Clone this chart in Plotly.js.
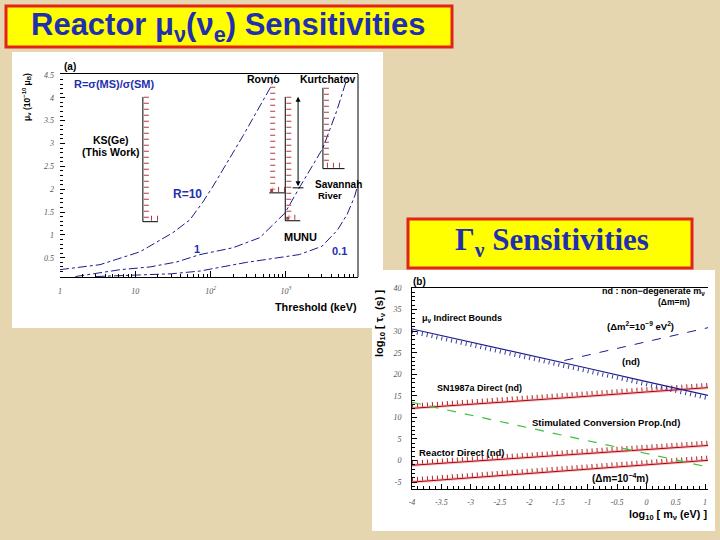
<!DOCTYPE html>
<html><head><meta charset="utf-8">
<script src="https://cdn.plot.ly/plotly-3.0.1.min.js"></script>
<style>html,body{margin:0;padding:0;background:#e6d6b0;}#chart{width:720px;height:540px;}</style>
</head><body><div id="chart"></div>
<script>
// ---------- Panel (a): reactor magnetic moment sensitivities ----------
const thrR10 = [1, 3.4, 11.5, 31.6, 53, 79, 108, 270, 620, 740];
const muR10  = [0.24, 0.35, 0.63, 1.05, 1.33, 1.72, 2.07, 3.17, 4.22, 4.5];
const thrR1  = [1.6, 6.3, 15.7, 35.6, 72, 198, 450, 714, 970, 1530, 3100, 4700, 6400, 6700];
const muR1   = [0.09, 0.24, 0.30, 0.41, 0.57, 0.72, 0.94, 1.27, 1.48, 2.05, 2.9, 3.7, 4.43, 4.5];
const thrR01 = [3, 30, 72, 300, 1500, 3000, 4800, 6500, 8200, 9000];
const muR01  = [0.09, 0.15, 0.21, 0.40, 0.57, 0.75, 1.1, 1.45, 1.85, 2.1];

const expName = ['KS(Ge)', 'Rovno', 'MUNU', 'Kurtchatov'];
const expThr  = [12.6, 600, 980, 3100];
const expTop  = [4.02, 4.24, 4.02, 4.22];
const expLim  = [1.29, 1.92, 1.31, 2.45];
const expEnd  = [20, 970, 1550, 6000];
const srThr = 1450, srLow = 2.03, srHigh = 4.02;   // Savannah River range

const aXTickVals = [1, 10, 100, 1000];
const aXTickText = ['1', '10', '10<sup>2</sup>', '10<sup>3</sup>'];
const aYTickVals = [0.5, 1, 1.5, 2, 2.5, 3, 3.5, 4, 4.5];
const aYTickText = ['0.5', '1', '1.5', '2', '2.5', '3', '3.5', '4', '4.5'];

// ---------- Panel (b): neutrino lifetime sensitivities ----------
const logM        = [-4, -3, -2, -1, 0, 1.05];
const tauIndirect = [30.5, 27.5, 24.4, 21.4, 18.3, 15.1];
const tauSN       = [12.1, 13.0, 14.0, 14.9, 15.9, 16.9];
const tauStim     = [13.5, 10.5, 7.6, 4.6, 1.6, -1.5];
const tauReactor  = [-1.1, -0.2, 0.7, 1.6, 2.5, 3.5];
const tauReactor4 = [-5.0, -4.0, -3.0, -2.0, -1.0, 0.05];
const logMRise    = [-1.4, -0.5, 0.5, 1.05];
const tauRise     = [23.2, 26.0, 29.1, 30.8];

const bXTickVals = [-4, -3.5, -3, -2.5, -2, -1.5, -1, -0.5, 0, 0.5, 1];
const bXTickText = ['-4', '-3.5', '-3', '-2.5', '-2', '-1.5', '-1', '-0.5', '0', '0.5', '1'];
const bYTickVals = [-5, 0, 5, 10, 15, 20, 25, 30, 35, 40];
const bYTickText = ['-5', '0', '5', '10', '15', '20', '25', '30', '35', '40'];

// ---------- helpers ----------
const W = 720, H = 540;
const PX = p => p / W, PY = p => 1 - p / H;
const navy = '#1c1c8c', blueTxt = '#1f2fb0', hatchRed = '#b03840';
const traces = [];

function curve(x, y) {
  traces.push({x, y, xaxis: 'x', yaxis: 'y', mode: 'lines', hoverinfo: 'skip',
    line: {color: navy, width: 1, dash: 'dashdot'}});
}
curve(thrR10, muR10); curve(thrR1, muR1); curve(thrR01, muR01);

const hx = Math.pow(10, 3.5 / 75.3);   // hatch offset in log space
const hy = 0.075;                      // hatch offset in mu units
expName.forEach((n, i) => {
  const t = expThr[i], top = expTop[i], lim = expLim[i], end = expEnd[i];
  traces.push({x: [t * hx, t * hx, end], y: [top, lim + hy, lim + hy], xaxis: 'x', yaxis: 'y',
    mode: 'lines', hoverinfo: 'skip', line: {color: hatchRed, width: 5, dash: '1px,5px'}});
  const bx = n === 'Rovno' ? [t, end] : [t, t, end];
  const by = n === 'Rovno' ? [lim, lim] : [top, lim, lim];
  traces.push({x: bx, y: by, xaxis: 'x', yaxis: 'y', mode: 'lines', hoverinfo: 'skip',
    line: {color: 'black', width: 1}});
});
traces.push({x: [srThr / 1.18, srThr * 1.18], y: [srLow, srLow], xaxis: 'x', yaxis: 'y',
  mode: 'lines', hoverinfo: 'skip', line: {color: 'black', width: 1}});

// panel (b) lines
function redLimit(y) {
  traces.push({x: logM, y, xaxis: 'x2', yaxis: 'y2', mode: 'lines', hoverinfo: 'skip',
    line: {color: '#f7c4c4', width: 3}});
  traces.push({x: logM, y: y.map(v => v + 0.65), xaxis: 'x2', yaxis: 'y2', mode: 'lines', hoverinfo: 'skip',
    line: {color: '#b02020', width: 4, dash: '1px,4px'}});
  traces.push({x: logM, y, xaxis: 'x2', yaxis: 'y2', mode: 'lines', hoverinfo: 'skip',
    line: {color: '#b00010', width: 1}});
}
redLimit(tauSN); redLimit(tauReactor); redLimit(tauReactor4);
traces.push({x: logM, y: tauIndirect.map(v => v - 0.65), xaxis: 'x2', yaxis: 'y2', mode: 'lines', hoverinfo: 'skip',
  line: {color: '#3a3a98', width: 4, dash: '1px,4px'}});
traces.push({x: logM, y: tauIndirect, xaxis: 'x2', yaxis: 'y2', mode: 'lines', hoverinfo: 'skip',
  line: {color: navy, width: 1.2}});
traces.push({x: logMRise, y: tauRise, xaxis: 'x2', yaxis: 'y2', mode: 'lines', hoverinfo: 'skip',
  line: {color: navy, width: 1, dash: 'dash'}});
traces.push({x: logM, y: tauStim, xaxis: 'x2', yaxis: 'y2', mode: 'lines', hoverinfo: 'skip',
  line: {color: '#3cbf3c', width: 1.2, dash: 'dash'}});

// ---------- text ----------
const ann = [];
function lab(text, x, y, o = {}) {
  ann.push(Object.assign({text, x: PX(x), y: PY(y), xref: 'paper', yref: 'paper', showarrow: false,
    xanchor: 'center', yanchor: 'middle',
    font: {family: o.family || 'Liberation Sans, Arial, sans-serif', size: o.size || 9, color: o.color || 'black'}},
    o.extra || {}));
}
lab('<b>Reactor μ<sub>ν</sub>(ν<sub>e</sub>) Sensitivities</b>', 228, 27, {size: 31, color: blueTxt});
lab('<b>Γ<sub>ν</sub> Sensitivities</b>', 552, 242, {size: 31, color: blueTxt,
  family: 'Liberation Serif, Times New Roman, serif'});

lab('<b>(a)</b>', 70, 66, {size: 10});
lab('<b>R=σ(MS)/σ(SM)</b>', 114, 84, {size: 11, color: blueTxt});
lab('<b>μ<sub>ν</sub> (10<sup>−10</sup> μ<sub>B</sub>)</b>', 27, 97, {size: 8.5, extra: {textangle: -90}});
lab('<b>KS(Ge)</b>', 111, 140, {size: 10.5});
lab('<b>(This Work)</b>', 111, 152, {size: 10.5});
lab('<b>Rovno</b>', 263, 79, {size: 10.5});
lab('<b>Kurtchatov</b>', 328, 79, {size: 10.5});
lab('<b>Savannah</b>', 338, 184, {size: 10});
lab('<b>River</b>', 330, 196, {size: 9.5});
lab('<b>R=10</b>', 187, 194, {size: 12, color: blueTxt});
lab('<b>1</b>', 197, 249, {size: 11, color: blueTxt});
lab('<b>MUNU</b>', 300, 237, {size: 11});
lab('<b>0.1</b>', 339, 251, {size: 11, color: blueTxt});
lab('<b>Threshold (keV)</b>', 316, 307, {size: 10.8});

lab('<b>(b)</b>', 419, 281, {size: 10});
lab('<b>nd : non−degenerate m<sub>ν</sub></b>', 707, 291, {extra: {xanchor: 'right'}, size: 9});
lab('<b>(Δm=m)</b>', 674, 302, {size: 8.5});
lab('<b>μ<sub>ν</sub> Indirect Bounds</b>', 462, 318, {size: 9});
lab('<b>(Δm<sup>2</sup>=10<sup>−9</sup> eV<sup>2</sup>)</b>', 640, 326, {size: 9.5});
lab('<b>(nd)</b>', 631, 361, {size: 9.5});
lab('<b>SN1987a Direct (nd)</b>', 479, 388, {size: 9});
lab('<b>Stimulated Conversion Prop.(nd)</b>', 606, 422, {size: 9.5});
lab('<b>Reactor Direct (nd)</b>', 462, 452, {size: 9.5});
lab('<b>(Δm=10<sup>−4</sup>m)</b>', 620, 478, {size: 10});
lab('<b>log<sub>10</sub> [ τ<sub>ν</sub> (s) ]</b>', 380, 323, {size: 11, extra: {textangle: -90}});
lab('<b>log<sub>10</sub> [ m<sub>ν</sub> (eV) ]</b>', 668, 515, {size: 10.8});

ann.push({x: Math.log10(srThr), y: srHigh, ax: Math.log10(srThr), ay: srLow, xref: 'x', yref: 'y',
  axref: 'x', ayref: 'y', showarrow: true, arrowhead: 2, arrowside: 'end+start', arrowsize: 1,
  arrowwidth: 1, arrowcolor: 'black', text: '', standoff: 0, startstandoff: 0});

// ---------- page decoration ----------
const shapes = [
  {type: 'rect', xref: 'paper', yref: 'paper', x0: PX(12), x1: PX(383), y0: PY(328), y1: PY(52),
    fillcolor: 'white', line: {width: 0}, layer: 'below'},
  {type: 'rect', xref: 'paper', yref: 'paper', x0: PX(372), x1: PX(715), y0: PY(531), y1: PY(270),
    fillcolor: 'white', line: {width: 0}, layer: 'below'},
  {type: 'rect', xref: 'paper', yref: 'paper', x0: PX(6), x1: PX(452), y0: PY(47), y1: PY(6),
    fillcolor: '#ffff00', line: {color: '#e2231a', width: 3}, layer: 'below'},
  {type: 'rect', xref: 'paper', yref: 'paper', x0: PX(408), x1: PX(692), y0: PY(268), y1: PY(219),
    fillcolor: '#ffff00', line: {color: '#e2231a', width: 3}, layer: 'below'},
  {type: 'line', xref: 'x domain', yref: 'y domain', x0: 1, x1: 1, y0: 0, y1: 1,
    line: {color: 'black', width: 1}}
];

// minor log ticks for panel (a)
const aMinor = [];
for (let d = 1; d <= 1000; d *= 10) for (let k = 2; k <= 9; k++) aMinor.push(k * d);

const tickFont = {family: 'Liberation Serif, serif', style: 'italic', size: 8, color: '#555'};
const layout = {
  width: W, height: H, margin: {l: 0, r: 0, t: 0, b: 0},
  paper_bgcolor: '#e6d6b0', plot_bgcolor: 'rgba(0,0,0,0)', showlegend: false,
  xaxis: {domain: [PX(60), PX(358)], type: 'log', range: [0, 3.957], anchor: 'y',
    showline: true, mirror: true, linecolor: 'black', linewidth: 1,
    ticks: 'inside', ticklen: 6, tickcolor: 'black', tickvals: aXTickVals, ticktext: aXTickText,
    tickfont: tickFont, ticklabelstandoff: 6,
    minor: {tickvals: aMinor, ticks: 'inside', ticklen: 3, tickcolor: 'black'},
    showgrid: false, zeroline: false, fixedrange: true},
  yaxis: {domain: [PY(277), PY(74)], range: [0.08, 4.52], anchor: 'x',
    showline: false, ticks: 'inside', ticklen: 5, tickcolor: 'black',
    tickvals: aYTickVals, ticktext: aYTickText, tickfont: tickFont, ticklabelstandoff: 5,
    minor: {dtick: 0.1, ticks: 'inside', ticklen: 2.5, tickcolor: 'black'},
    showgrid: false, zeroline: false, fixedrange: true},
  xaxis2: {domain: [PX(412), PX(708)], range: [-4, 1.05], anchor: 'y2',
    showline: true, mirror: true, linecolor: 'black', linewidth: 1,
    ticks: 'inside', ticklen: 5, tickcolor: 'black', tickvals: bXTickVals, ticktext: bXTickText,
    tickfont: tickFont, ticklabelstandoff: 5,
    minor: {dtick: 0.1, ticks: 'inside', ticklen: 3, tickcolor: 'black'},
    showgrid: false, zeroline: false, fixedrange: true},
  yaxis2: {domain: [PY(489), PY(288)], range: [-6.6, 40], anchor: 'x2',
    showline: true, linecolor: 'black', linewidth: 1,
    ticks: 'inside', ticklen: 5, tickcolor: 'black', tickvals: bYTickVals, ticktext: bYTickText,
    tickfont: tickFont, ticklabelstandoff: 8,
    minor: {dtick: 1, ticks: 'inside', ticklen: 3, tickcolor: 'black'},
    showgrid: false, zeroline: false, fixedrange: true},
  shapes, annotations: ann
};
Plotly.newPlot('chart', traces, layout, {displayModeBar: false, staticPlot: true});
</script>
</body></html>
